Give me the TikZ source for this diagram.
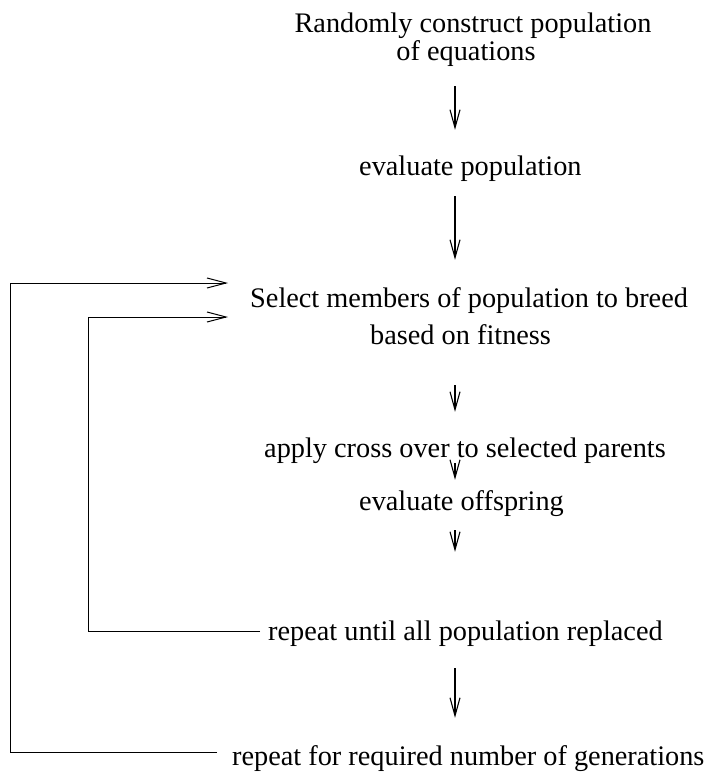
\documentclass[tikz,border=0pt]{standalone}
\usepackage{fontspec}
\setmainfont{Liberation Serif}
\usetikzlibrary{arrows.meta,calc}
\begin{document}
\begin{tikzpicture}[x=1pt,y=-1pt,
  label/.style={anchor=base west,inner sep=0pt,text height=20pt,text depth=7pt,
    font=\fontsize{28.3}{28}\selectfont},
  flow/.style={line width=1.1pt,-{Straight Barb[length=18pt,width=10pt,line width=1.1pt]}},
  loopback/.style={line width=1pt,-{Straight Barb[length=19pt,width=10pt,line width=1pt]}}]
\useasboundingbox (0,0) rectangle (714,774);

% steps of the algorithm
\node[label,anchor=base] (ra) at (473,32) {Randomly construct population};
\node[label,anchor=base] (rb) at (466,60) {of equations};
\node[label] (ev) at (359,175) {evaluate population};
\node[label] (sa) at (250,307) {Select members of population to breed};
\node[label] (sb) at (370,344) {based on fitness};
\node[label] (cr) at (264,457) {apply cross over to selected parents};
\node[label] (eo) at (359,510) {evaluate offspring};
\node[label] (ru) at (268,640) {repeat until all population replaced};
\node[label] (rg) at (232,765) {repeat for required number of generations};

% vertical spine of the flow
\coordinate (spine) at (455,0);
\draw[flow,shorten <=19pt,shorten >=25pt] (rb.south -| spine) -- (ev.north -| spine);
\draw[flow,shorten <=14pt,shorten >=27pt] (ev.south -| spine) -- (sa.north -| spine);
\draw[flow,shorten <=34pt,shorten >=25pt] (sb.south -| spine) -- (cr.north -| spine);
\draw[flow,shorten <=-1pt,shorten >=10pt] (cr.south -| spine) -- (eo.north -| spine);
\draw[flow,shorten <=13pt,shorten >=68pt] (eo.south -| spine) -- (ru.north -| spine);
\draw[flow,shorten <=21pt,shorten >=27pt] (ru.south -| spine) -- (rg.north -| spine);

% feedback loops back to the selection step
\coordinate (outerx) at (10,0);
\coordinate (innerx) at (88,0);
\coordinate (o1) at ($(rg.base west)+(-15,-13)$);
\coordinate (o2) at ($(sa.base west)+(-22,-24)$);
\coordinate (i1) at ($(ru.base west)+(-8,-9)$);
\coordinate (i2) at ($(sa.base west)+(-22,10)$);
\draw[loopback] (o1) -- (o1 -| outerx) |- (o2);
\draw[loopback] (i1) -- (i1 -| innerx) |- (i2);
\end{tikzpicture}
\end{document}
